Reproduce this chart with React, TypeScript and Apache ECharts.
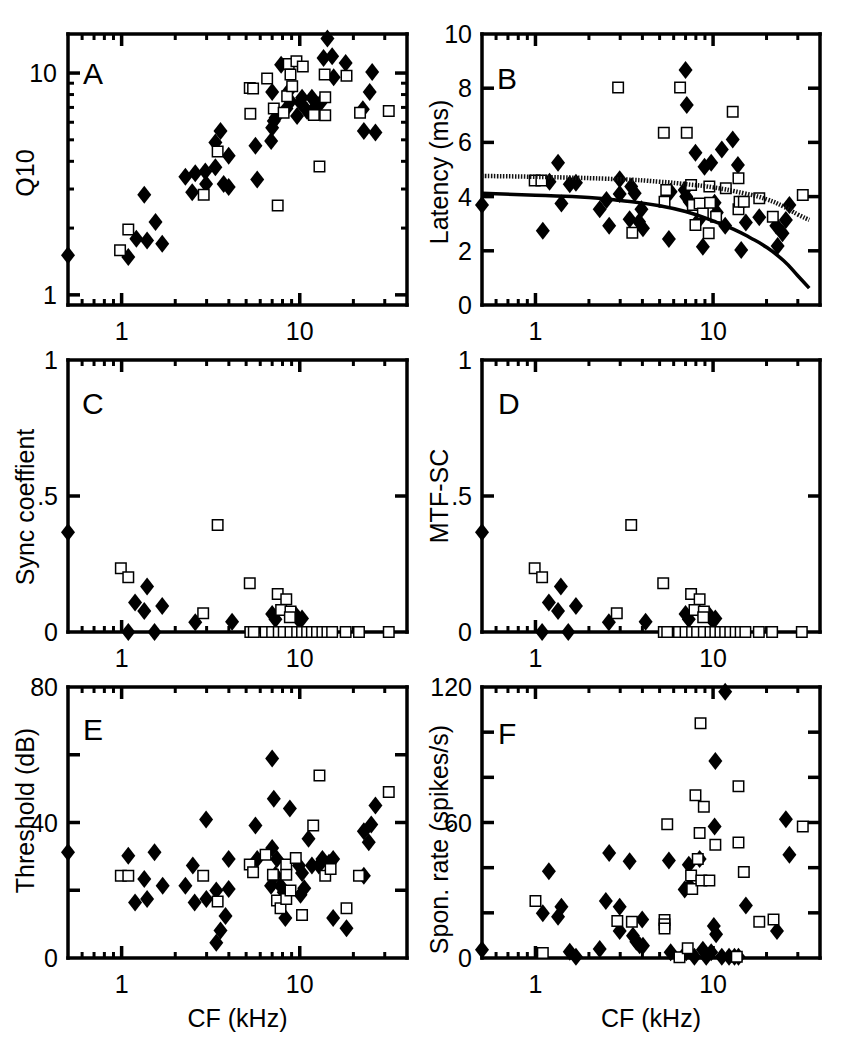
import React, { useEffect, useRef } from "react";
import * as echarts from "echarts";

const FONT = "'Liberation Sans', Arial, Helvetica, sans-serif";

// ---- tick values ----
const cfMajorTicks = [1, 10];
const cfMinorTicks = [0.6, 0.7, 0.8, 0.9, 2, 3, 4, 5, 6, 7, 8, 9, 20, 30];
const q10MajorTicks = [1, 10];
const q10MinorTicks = [2, 3, 4, 5, 6, 7, 8, 9];
const latTicks = [2, 4, 6, 8];
const syncTicks = [0.5];
const thrTicks = [20, 40, 60];
const sponTicks = [20, 40, 60, 80, 100];

// ---- Panel A: Q10 ----
const q10Diamonds = [
  [0.5, 1.51], [1.09, 1.48], [1.21, 1.79], [1.34, 2.83], [1.39, 1.76], [1.55, 2.13], [1.69, 1.7],
  [2.28, 3.41], [2.49, 2.9], [2.59, 3.53], [2.95, 3.6], [2.98, 3.16], [3.36, 3.76], [3.36, 4.86],
  [3.59, 5.48], [3.74, 3.16], [3.99, 3.06], [3.99, 4.24], [5.64, 4.7], [5.77, 3.31], [6.91, 4.94],
  [7.0, 5.67], [7.15, 6.08], [7.32, 6.29], [7.0, 8.22], [7.86, 10.9], [8.42, 6.93], [8.65, 8.28],
  [8.87, 7.47], [9.66, 6.4], [10.1, 7.34], [10.3, 7.73], [11.0, 6.74], [11.7, 7.73], [12.3, 7.1],
  [13.1, 7.34], [13.6, 11.7], [14.3, 14.3], [15.2, 11.9], [15.5, 9.57], [18.1, 11.1], [22.6, 6.86],
  [22.9, 5.48], [24.7, 8.22], [25.5, 10.1], [26.6, 5.39],
];
const q10Squares = [
  [0.98, 1.59], [1.09, 1.97], [2.89, 2.83], [3.46, 4.43], [5.28, 6.55], [5.24, 8.57], [5.47, 8.51],
  [6.56, 9.44], [7.15, 6.93], [7.52, 2.53], [8.12, 6.62], [8.5, 7.87], [8.67, 11.0], [8.87, 9.84],
  [9.07, 8.71], [9.58, 11.3], [10.4, 10.7], [12.0, 6.47], [12.9, 3.79], [13.8, 9.84], [13.9, 7.78],
  [13.9, 6.45], [18.3, 9.73], [21.8, 6.62], [31.6, 6.74],
];

// ---- Panel B: Latency ----
const latDiamonds = [
  [0.5, 3.69], [1.1, 2.74], [1.2, 4.55], [1.34, 5.25], [1.4, 3.75], [1.56, 4.46], [1.69, 4.51],
  [2.3, 3.53], [2.51, 3.87], [2.6, 2.92], [2.98, 4.64], [2.98, 4.1], [3.39, 3.16], [3.46, 4.37],
  [3.62, 4.12], [3.83, 3.07], [3.95, 3.53], [4.03, 2.83], [5.64, 2.44], [5.77, 4.18], [6.92, 4.24],
  [7.0, 8.67], [7.11, 7.38], [7.06, 4.0], [7.38, 3.81], [7.96, 5.62], [8.32, 3.14], [8.76, 2.15],
  [8.95, 5.1], [9.76, 5.25], [10.2, 3.77], [10.5, 3.41], [11.2, 5.74], [11.7, 2.92], [12.9, 6.11],
  [13.8, 5.17], [14.4, 2.03], [15.3, 3.04], [18.2, 3.24], [22.7, 2.92], [23.1, 2.18], [24.6, 2.65],
  [25.7, 3.14], [26.9, 3.69],
];
const latSquares = [
  [0.99, 4.59], [1.08, 4.59], [2.92, 8.03], [3.51, 2.67], [5.28, 6.36], [5.33, 3.81], [5.45, 4.24],
  [6.52, 8.03], [7.11, 6.36], [7.52, 4.43], [7.69, 3.69], [7.96, 2.95], [8.4, 3.75], [8.76, 3.38],
  [9.45, 2.65], [9.53, 4.37], [9.62, 3.77], [10.4, 3.26], [11.8, 4.31], [12.9, 7.13], [13.9, 4.68],
  [13.9, 3.53], [14.1, 3.81], [14.9, 3.81], [18.2, 3.94], [21.7, 3.26], [32.0, 4.06],
];
const latFitSolid = [
  [0.5, 4.12], [1, 4.05], [2, 3.97], [3, 3.86], [5, 3.66], [7, 3.45], [10, 3.1], [13, 2.8],
  [16, 2.5], [20, 2.13], [25, 1.63], [30, 1.08], [34.8, 0.62],
];
const latFitDotted = [
  [0.5, 4.76], [1, 4.73], [3, 4.64], [5, 4.55], [7, 4.46], [10, 4.34], [15, 4.12], [20, 3.9],
  [25, 3.63], [30, 3.34], [34.8, 3.14],
];

// ---- Panel C: Sync coefficient ----
const syncDiamonds = [
  [0.5, 0.367], [1.09, 0], [1.19, 0.108], [1.34, 0.077], [1.39, 0.167], [1.53, 0], [1.69, 0.096],
  [2.59, 0.036], [4.17, 0.038], [7.0, 0.066], [7.3, 0.047], [9.5, 0.0625], [9.9, 0.044], [10.3, 0.05],
];
const syncSquares = [
  [0.99, 0.234], [1.09, 0.201], [2.87, 0.069], [3.46, 0.393], [5.24, 0.179], [7.52, 0.14], [8.4, 0.12],
  [7.86, 0.081], [8.87, 0.075], [8.8, 0.054],
  [5.28, 0], [5.52, 0], [6.43, 0], [7.0, 0], [7.62, 0], [8.13, 0], [8.87, 0], [9.67, 0], [10.3, 0],
  [11.0, 0], [11.7, 0], [12.5, 0], [13.4, 0], [14.3, 0], [15.2, 0], [18.1, 0], [21.5, 0], [31.6, 0],
];

// ---- Panel D: MTF-SC ----
const mtfDiamonds = [
  [0.5, 0.367], [1.09, 0], [1.19, 0.108], [1.34, 0.077], [1.39, 0.167], [1.53, 0], [1.69, 0.096],
  [2.59, 0.036], [4.17, 0.038], [7.0, 0.066], [7.3, 0.047], [9.5, 0.0625], [9.9, 0.044], [10.3, 0.05],
];
const mtfSquares = [
  [0.99, 0.234], [1.09, 0.201], [2.87, 0.069], [3.46, 0.393], [5.24, 0.179], [7.52, 0.14], [8.4, 0.12],
  [7.86, 0.081], [8.87, 0.075], [8.8, 0.054],
  [5.28, 0], [5.52, 0], [6.43, 0], [7.0, 0], [7.62, 0], [8.13, 0], [8.87, 0], [9.67, 0], [10.3, 0],
  [11.0, 0], [11.7, 0], [12.5, 0], [13.4, 0], [14.3, 0], [15.2, 0], [18.1, 0], [21.5, 0], [31.6, 0],
];

// ---- Panel E: Threshold ----
const thrDiamonds = [
  [0.5, 31.2], [1.09, 30.2], [1.19, 16.4], [1.34, 23.3], [1.39, 17.4], [1.53, 31.2], [1.7, 21.3],
  [2.28, 21.3], [2.51, 27.3], [2.57, 16.4], [2.98, 40.9], [2.99, 17.4], [3.4, 19.9], [3.4, 4.5],
  [3.59, 8.1], [3.83, 12.4], [3.99, 29.2], [3.99, 20.4], [5.64, 39.1], [5.77, 29.2], [7.0, 58.9],
  [7.0, 32.5], [7.15, 47.0], [6.9, 21.3], [7.3, 24.6], [7.45, 29.2], [7.8, 21.3], [8.13, 19.4],
  [8.3, 11.8], [8.8, 44.1], [9.9, 27.3], [10.1, 18.7], [10.3, 25.1], [10.6, 20.6], [11.2, 35.2],
  [11.7, 27.3], [12.8, 27.3], [13.4, 29.2], [14.6, 28.1], [15.4, 29.2], [15.4, 11.8], [18.3, 8.8],
  [22.9, 24.3], [22.9, 37.4], [24.4, 34.2], [25.2, 39.4], [26.6, 45.0],
];
const thrSquares = [
  [0.99, 24.3], [1.09, 24.3], [2.87, 24.3], [3.46, 16.7], [5.24, 27.6], [5.47, 25.3], [6.43, 30.5],
  [7.07, 24.6], [7.45, 17.0], [7.8, 14.7], [8.4, 27.6], [8.4, 24.6], [8.4, 17.4], [8.87, 19.9],
  [9.5, 29.5], [10.3, 12.7], [11.9, 39.1], [12.9, 53.9], [13.9, 24.3], [14.9, 26.3], [18.3, 14.7],
  [21.5, 24.3], [31.6, 49.0],
];

// ---- Panel F: Spontaneous rate ----
const sponDiamonds = [
  [0.5, 3.6], [1.1, 19.8], [1.19, 38.4], [1.34, 18.3], [1.4, 22.7], [1.56, 2.8], [1.69, 0.6],
  [2.3, 4.0], [2.49, 25.2], [2.6, 46.5], [2.98, 22.7], [2.98, 12.0], [3.39, 42.8], [3.54, 9.8],
  [3.7, 7.2], [3.86, 5.7], [3.99, 17.1], [4.03, 5.4], [5.64, 43.2], [5.77, 2.5], [6.92, 30.3],
  [7.06, 2.5], [7.3, 41.3], [7.38, 31.8], [7.85, 0.6], [8.4, 43.8], [8.76, 3.6], [9.15, 0.6],
  [9.76, 2.5], [10.1, 14.2], [10.2, 58.2], [10.4, 10.5], [10.3, 87.2], [11.7, 117.9], [11.2, 0.6],
  [12.3, 0.6], [13.2, 0.6], [13.9, 0.6], [15.3, 23.3], [22.9, 12.0], [25.7, 61.4], [26.9, 45.7],
];
const sponSquares = [
  [1.0, 25.2], [1.1, 2.2], [2.89, 16.4], [3.49, 16.0], [5.33, 16.8], [5.33, 14.9], [5.33, 13.1],
  [5.52, 59.2], [6.47, 0.3], [7.2, 4.3], [7.52, 36.5], [7.63, 30.6], [7.96, 72.1], [8.2, 43.8],
  [8.4, 55.3], [8.5, 103.9], [8.59, 34.3], [8.87, 67.0], [9.53, 34.3], [10.3, 50.1], [13.9, 76.0],
  [13.9, 51.1], [14.9, 38.1], [18.2, 16.1], [21.9, 17.1], [32.0, 58.2], [13.6, 0.6],
];

const RECTS = [
  { left: 68, top: 34, width: 339, height: 271 },
  { left: 482, top: 34, width: 338, height: 271 },
  { left: 68, top: 360, width: 339, height: 272 },
  { left: 482, top: 360, width: 338, height: 272 },
  { left: 68, top: 687, width: 339, height: 271 },
  { left: 482, top: 687, width: 338, height: 271 },
];

const LETTERS = [
  { t: "A", x: 83, y: 73 },
  { t: "B", x: 497, y: 78 },
  { t: "C", x: 82, y: 403 },
  { t: "D", x: 498, y: 403 },
  { t: "E", x: 83, y: 729 },
  { t: "F", x: 498, y: 733 },
];

const X_MIN = 0.5;
const X_MAX = 40;
const MAJOR_LEN = 12;
const MINOR_LEN = 6;

const textStyle = { fontSize: 25, color: "#000", fontFamily: FONT };
const frameLine = { show: true, onZero: false, lineStyle: { color: "#000", width: 3.5, cap: "square" } };

function buildOption() {
  const xAxis: any[] = [];
  const yAxis: any[] = [];
  const series: any[] = [];

  const panels = [
    { kind: "log", name: "Q10", pad: [0, 7, 0, 0], min: 0.9, max: 15, major: q10MajorTicks, minor: q10MinorTicks, labels: q10MajorTicks, d: q10Diamonds, s: q10Squares },
    { kind: "lin", name: "Latency (ms)", pad: [0, 5, 0, 0], min: 0, max: 10, interval: 2, major: latTicks, minor: [], labels: [0, 2, 4, 6, 8, 10], d: latDiamonds, s: latSquares },
    { kind: "lin", name: "Sync coeffient", pad: [0, 22, 0, 0], min: 0, max: 1, interval: 0.5, major: syncTicks, minor: [], labels: [0, 0.5, 1], d: syncDiamonds, s: syncSquares },
    { kind: "lin", name: "MTF-SC", pad: [0, 0, 0, 0], min: 0, max: 1, interval: 0.5, major: syncTicks, minor: [], labels: [0, 0.5, 1], d: mtfDiamonds, s: mtfSquares },
    { kind: "lin", name: "Threshold (dB)", pad: [0, 0, 0, 24], min: 0, max: 80, interval: 20, major: thrTicks, minor: [], labels: [0, 40, 80], d: thrDiamonds, s: thrSquares },
    { kind: "lin", name: "Spon. rate (spikes/s)", pad: [0, 34, 0, 0], min: 0, max: 120, interval: 20, major: sponTicks, minor: [], labels: [0, 60, 120], d: sponDiamonds, s: sponSquares },
  ];

  panels.forEach((p: any, i) => {
    const baseX = { type: "log", logBase: 10, gridIndex: i, min: X_MIN, max: X_MAX, splitLine: { show: false }, axisTick: { show: false }, axisLine: frameLine };
    const xMain = xAxis.length;
    xAxis.push({
      ...baseX, position: "bottom",
      axisLabel: { ...textStyle, customValues: cfMajorTicks, margin: 13, formatter: (v: number) => String(Math.round(v)) },
      name: i >= 4 ? "CF (kHz)" : "", nameLocation: "middle", nameGap: 47, nameMoveOverlap: false,
      nameTextStyle: { ...textStyle },
    });
    xAxis.push({ ...baseX, position: "top", axisLabel: { show: false } });

    const nameCommon = {
      name: p.name, nameLocation: "middle", nameRotate: 90, nameGap: 31, nameMoveOverlap: false,
      nameTextStyle: { ...textStyle, padding: p.pad },
    };
    const labels: number[] = p.labels;
    const yMain = yAxis.length;
    const baseY: any = p.kind === "log"
      ? { type: "log", logBase: 10, gridIndex: i, min: p.min, max: p.max }
      : { type: "value", gridIndex: i, min: p.min, max: p.max, interval: p.interval };
    Object.assign(baseY, { splitLine: { show: false }, axisTick: { show: false }, axisLine: frameLine });
    yAxis.push({
      ...baseY, position: "left",
      axisLabel: p.kind === "log"
        ? { ...textStyle, customValues: labels, margin: 11, formatter: (v: number) => String(Math.round(v)) }
        : {
            ...textStyle, margin: 10,
            formatter: (v: number) => {
              if (!labels.some((l) => Math.abs(l - v) < 1e-9)) return "";
              if (Math.abs(v - 0.5) < 1e-9) return ".5";
              return String(v);
            },
          },
      ...nameCommon,
    });
    yAxis.push({ ...baseY, position: "right", axisLabel: { show: false } });

    // tick marks: [x, y, kind(0=x,1=y), length, width], placed via the axes' own scales
    const tickData: number[][] = [];
    cfMajorTicks.forEach((v) => tickData.push([v, p.min, 0, MAJOR_LEN, 3.5]));
    cfMinorTicks.forEach((v) => tickData.push([v, p.min, 0, MINOR_LEN, 3]));
    (p.major as number[]).forEach((v) => tickData.push([X_MIN, v, 1, MAJOR_LEN, 3.5]));
    (p.minor as number[]).forEach((v) => tickData.push([X_MIN, v, 1, MINOR_LEN, 3]));
    const yMin = p.min;
    const yMax = p.max;
    series.push({
      type: "custom", xAxisIndex: xMain, yAxisIndex: yMain, data: tickData, clip: false, z: 2, silent: true,
      renderItem: (_params: any, api: any) => {
        const xv = api.value(0);
        const yv = api.value(1);
        const kind = api.value(2);
        const len = api.value(3);
        const style = { stroke: "#000", lineWidth: api.value(4) };
        if (kind === 0) {
          const b = api.coord([xv, yMin]);
          const t = api.coord([xv, yMax]);
          return {
            type: "group",
            children: [
              { type: "line", shape: { x1: b[0], y1: b[1], x2: b[0], y2: b[1] - len }, style },
              { type: "line", shape: { x1: t[0], y1: t[1], x2: t[0], y2: t[1] + len }, style },
            ],
          };
        }
        const l = api.coord([X_MIN, yv]);
        const r = api.coord([X_MAX, yv]);
        return {
          type: "group",
          children: [
            { type: "line", shape: { x1: l[0], y1: l[1], x2: l[0] + len, y2: l[1] }, style },
            { type: "line", shape: { x1: r[0], y1: r[1], x2: r[0] - len, y2: r[1] }, style },
          ],
        };
      },
    });

    series.push({
      type: "scatter", xAxisIndex: xMain, yAxisIndex: yMain, data: p.d, clip: false,
      symbol: "diamond", symbolSize: [14, 18], itemStyle: { color: "#000", opacity: 1 }, z: 3,
    });
    series.push({
      type: "scatter", xAxisIndex: xMain, yAxisIndex: yMain, data: p.s, clip: false,
      symbol: "rect", symbolSize: 10.5,
      itemStyle: { color: "#fff", borderColor: "#000", borderWidth: 1.5, opacity: 1 }, z: 4,
    });
    if (i === 1) {
      series.push({
        type: "line", xAxisIndex: xMain, yAxisIndex: yMain, data: latFitSolid, smooth: true,
        showSymbol: false, symbol: "none", lineStyle: { color: "#000", width: 3.5 }, z: 5,
      });
      series.push({
        type: "line", xAxisIndex: xMain, yAxisIndex: yMain, data: latFitDotted, smooth: true,
        showSymbol: false, symbol: "none", lineStyle: { color: "#111", width: 4.5, type: [1.5, 1.5] }, z: 5,
      });
    }
  });

  return {
    animation: false,
    backgroundColor: "#fff",
    grid: RECTS.map((r) => ({ ...r, show: false })),
    xAxis,
    yAxis,
    series,
    graphic: LETTERS.map((l) => ({
      type: "text", x: l.x, y: l.y, z: 10,
      style: { text: l.t, fontSize: 30, fontFamily: FONT, fill: "#000", align: "left", verticalAlign: "middle" },
    })),
  };
}

export default function App() {
  const ref = useRef<HTMLDivElement>(null);
  useEffect(() => {
    if (!ref.current) return;
    const chart = echarts.init(ref.current, undefined, { renderer: "svg" });
    chart.setOption(buildOption() as any);
    return () => chart.dispose();
  }, []);
  return (
    <div
      ref={ref}
      style={{ position: "fixed", left: 0, top: 0, width: 846, height: 1050, background: "#fff" }}
    />
  );
}
